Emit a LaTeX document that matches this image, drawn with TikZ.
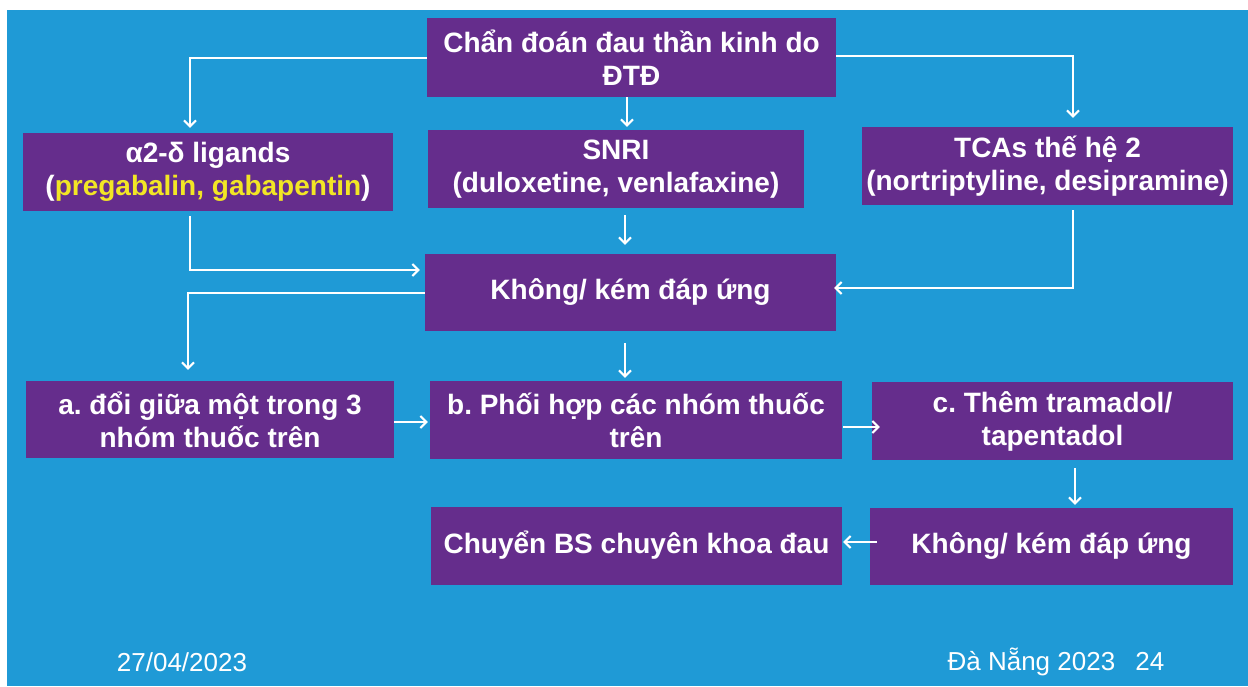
\documentclass[tikz,border=0pt]{standalone}
\usepackage{fontspec}
\setmainfont{Liberation Sans}
\usetikzlibrary{arrows.meta}
\definecolor{slideblue}{HTML}{1F9AD6}
\definecolor{boxpurple}{HTML}{652D8C}
\definecolor{drugyellow}{HTML}{F2E625}
\frenchspacing

\begin{document}
\begin{tikzpicture}[x=1pt,y=-1pt,
    box/.style={fill=boxpurple, text=white, align=center, inner sep=0pt,
      font=\fontsize{28}{33}\selectfont\bfseries},
    flow/.style={draw=white, line width=2pt, -{Straight Barb[length=6pt,width=12pt]}},
    foot/.style={text=white, font=\fontsize{26}{30}\selectfont}]
    \fill[white] (0,0) rectangle (1248,686);
    \fill[slideblue] (7,10) rectangle (1248,686);
    \useasboundingbox (0,0) rectangle (1248,686);

    \node[box, minimum width=409pt, minimum height=79pt] (diag) at (631.5,57.5) {Chẩn đoán đau thần kinh do\\ĐTĐ};
    \node[box, minimum width=370pt, minimum height=78pt] (a2d) at (208,172) {α2-δ ligands\\(\textcolor{drugyellow}{pregabalin, gabapentin})};
    \node[box, minimum width=376pt, minimum height=78pt] (snri) at (616,169) {SNRI\\(duloxetine, venlafaxine)};
    \node[box, minimum width=371pt, minimum height=78pt] (tca) at (1047.5,166) {TCAs thế hệ 2\\(nortriptyline, desipramine)};
    \node[box, minimum width=411pt, minimum height=77pt] (fail1) at (630.5,292.5) {Không/ kém đáp ứng};
    \node[box, minimum width=368pt, minimum height=77pt] (opta) at (210,419.5) {a. đổi giữa một trong 3\\nhóm thuốc trên};
    \node[box, minimum width=412pt, minimum height=78pt] (optb) at (636,420) {b. Phối hợp các nhóm thuốc\\trên};
    \node[box, minimum width=361pt, minimum height=78pt] (optc) at (1052.5,421) {c. Thêm tramadol/\\tapentadol};
    \node[box, minimum width=411pt, minimum height=78pt] (refer) at (636.5,545.5) {Chuyển BS chuyên khoa đau};
    \node[box, minimum width=363pt, minimum height=77pt] (fail2) at (1051.5,546.5) {Không/ kém đáp ứng};

    \node[foot] (date) at (182,662) {27/04/2023};
    \node[foot] (place) at (1056,662) {Đà Nẵng 2023\enspace\ 24};

    % first line drugs
    \draw[flow, shorten >=5pt] (diag.west) -| ([xshift=-18pt]a2d.north);
    \draw[flow, shorten >=9pt] ([yshift=2pt]diag.east) -| ([xshift=25.5pt]tca.north);
    \draw[flow, shorten >=3pt] ([xshift=-4.5pt]diag.south) -- ([xshift=-4.5pt]diag.south |- snri.north);

    % to no response
    \draw[flow, shorten <=7pt, shorten >=9pt] ([xshift=9pt]snri.south) -- ([xshift=9pt]snri.south |- fail1.north);
    \draw[flow, shorten <=5pt, shorten >=5pt] ([xshift=-18pt]a2d.south) |- ([yshift=22.5pt]fail1.west);
    \draw[flow, shorten <=5pt, shorten >=-2pt] ([xshift=25.5pt]tca.south) |- ([yshift=4.5pt]fail1.east);

    % options
    \draw[flow, shorten >=11pt] (fail1.west) -| ([xshift=-22pt]opta.north);
    \draw[flow, shorten <=12pt, shorten >=3pt] ([xshift=-5.5pt]fail1.south) -- ([xshift=-5.5pt]fail1.south |- optb.north);
    \draw[flow, shorten >=2pt] ([yshift=-2.5pt]opta.east) -- ([yshift=-2.5pt]opta.east -| optb.west);
    \draw[flow, shorten <=1pt, shorten >=-8pt] ([yshift=-7pt]optb.east) -- ([yshift=-7pt]optb.east -| optc.west);
    \draw[flow, shorten <=8pt, shorten >=3pt] ([xshift=22.5pt]optc.south) -- ([xshift=22.5pt]optc.south |- fail2.north);
    \draw[flow, shorten <=-7pt, shorten >=1pt] ([yshift=4.5pt]fail2.west) -- ([yshift=4.5pt]fail2.west -| refer.east);
\end{tikzpicture}
\end{document}
